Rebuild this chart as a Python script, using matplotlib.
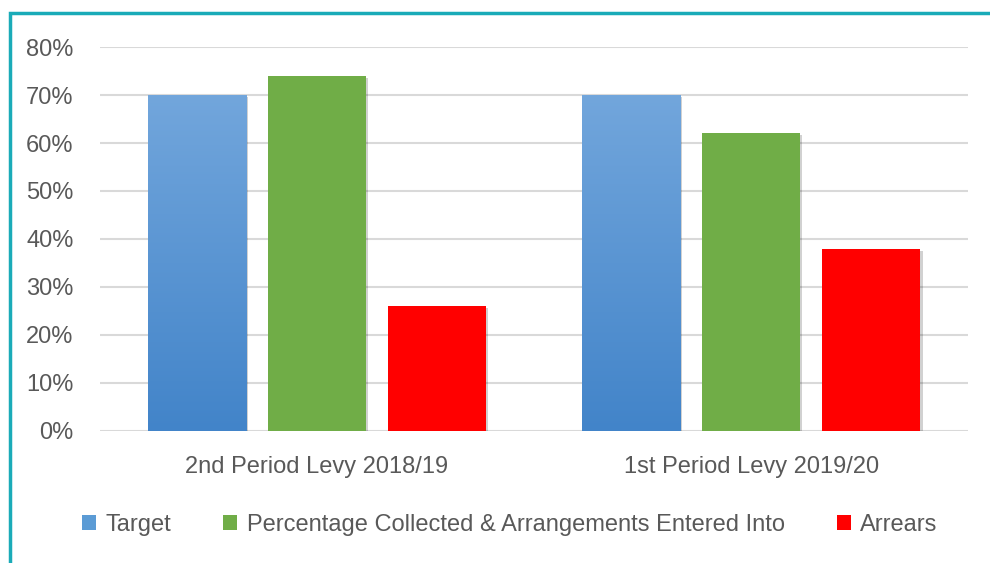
import numpy as np
import matplotlib.pyplot as plt
import matplotlib.patheffects as pe
from matplotlib.patches import Rectangle
from matplotlib.colors import LinearSegmentedColormap
from matplotlib.ticker import FuncFormatter

# data
categories = ['2nd Period Levy 2018/19', '1st Period Levy 2019/20']
series = ['Target', 'Percentage Collected & Arrangements Entered Into', 'Arrears']
target = [70, 70]
collected = [74, 62]
arrears = [26, 38]

plt.rcParams['font.family'] = ['Liberation Sans', 'DejaVu Sans']

fig = plt.figure(figsize=(9.9, 5.63), dpi=100)
ax = fig.add_axes([0.101, 0.2345, 0.877, 0.682])

x = np.arange(len(categories))
w = 0.226
off = 0.277
grey = '#595959'
shadow = [pe.SimplePatchShadow(offset=(1.5, -1.5), shadow_rgbFace='#000000', alpha=0.18), pe.Normal()]

b1 = ax.bar(x - off, target, w, color='#5b9bd5', label=series[0], zorder=3)
b2 = ax.bar(x, collected, w, color='#70ad47', label=series[1], zorder=3)
b3 = ax.bar(x + off, arrears, w, color='#ff0000', label=series[2], zorder=3)
for bars in (b1, b2, b3):
    for r in bars:
        r.set_path_effects(shadow)

# gradient fill on the blue bars
cmap = LinearSegmentedColormap.from_list('blu', ['#4284c9', '#72a6dc'])
grad = np.linspace(0, 1, 256).reshape(-1, 1)
for r in b1:
    x0, y0 = r.get_x(), r.get_y()
    im = ax.imshow(grad, cmap=cmap, origin='lower', aspect='auto',
                   extent=[x0, x0 + r.get_width(), y0, y0 + r.get_height()], zorder=4)
    im.set_clip_path(r)

ax.set_xlim(-0.5, 1.5)
ax.set_ylim(0, 80)
ax.set_yticks(np.arange(0, 81, 10))
ax.yaxis.set_major_formatter(FuncFormatter(lambda v, p: f'{v:.0f}%'))
ax.set_xticks(x)
ax.set_xticklabels(categories)
ax.grid(axis='y', color='#d9d9d9', linewidth=1.5, zorder=0)
ax.tick_params(length=0, labelsize=17, labelcolor=grey)
ax.tick_params(axis='y', pad=19)
ax.tick_params(axis='x', pad=18)
for s in ax.spines.values():
    s.set_visible(False)

leg = fig.legend(handles=[b1, b2, b3], labels=series, loc='center', ncol=3,
                 bbox_to_anchor=(0.515, 0.068), frameon=False, fontsize=17,
                 handlelength=0.6, handleheight=0.6, handletextpad=0.4, columnspacing=2.2)
for t in leg.get_texts():
    t.set_color(grey)
for h in leg.legend_handles:
    h.set_path_effects([])

# teal frame
fig.patches.append(Rectangle((10 / 990, -0.1), 1.2, 1 - 13 / 563 + 0.1, transform=fig.transFigure,
                             fill=False, edgecolor='#1aabb8', linewidth=2.5, zorder=10))

fig.savefig('out.png', dpi=100)
